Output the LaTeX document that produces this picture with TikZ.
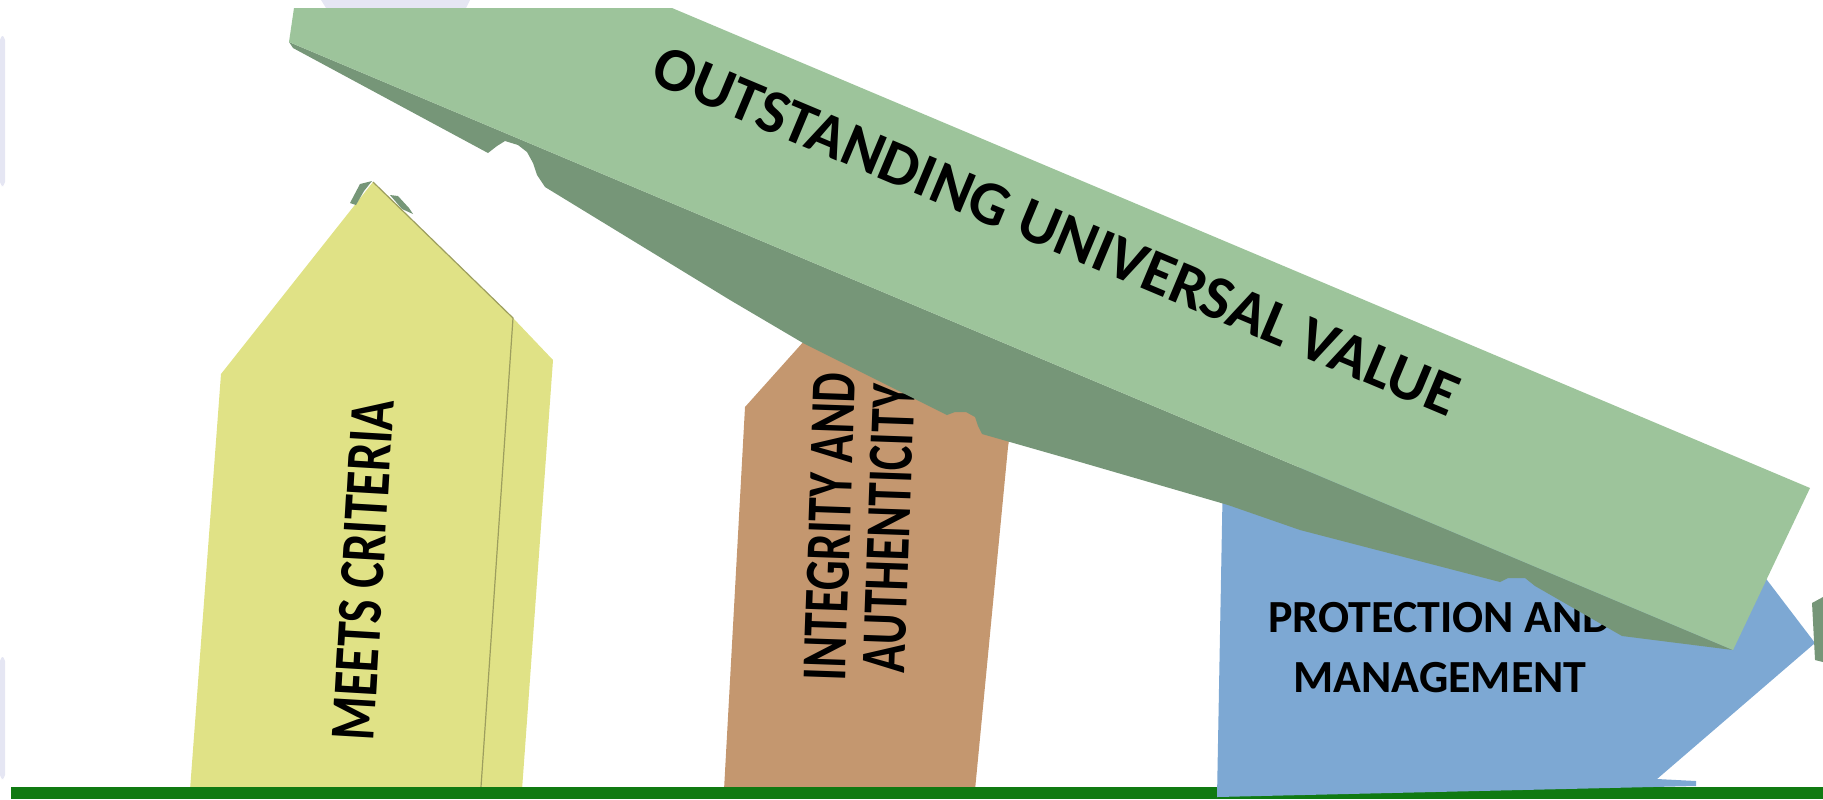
\documentclass[tikz,border=0pt]{standalone}
\usepackage{fontspec}
\setmainfont{Carlito}
\usepackage{tikz}
\usetikzlibrary{positioning}
\usepackage{xcolor}

\definecolor{beamtop}{RGB}{157,196,155}
\definecolor{beamside}{RGB}{118,150,120}
\definecolor{pillaryellow}{RGB}{224,226,134}
\definecolor{pillarbrown}{RGB}{196,151,111}
\definecolor{arrowblue}{RGB}{125,168,211}
\definecolor{groundgreen}{RGB}{16,122,18}
\definecolor{haze}{RGB}{229,230,243}

\begin{document}
\begin{tikzpicture}[x=0.5pt, y=-0.5pt,
    beamlabel/.style={font=\bfseries\fontsize{31pt}{36pt}\selectfont, inner sep=0pt},
    pillarlabel/.style={font=\bfseries\fontsize{32pt}{29pt}\selectfont, inner sep=0pt},
    arrowlabel/.style={font=\bfseries\fontsize{23pt}{30pt}\selectfont, align=center, inner sep=0pt}]
\useasboundingbox (0,0) rectangle (1823,799);

% faint haze at the edges
\fill[haze] (321,0) -- (470,0) -- (466,8) -- (326,8) -- cycle;
\fill[haze, rounded corners=2] (0,36) rectangle (5,186);
\fill[haze, rounded corners=2] (0,657) rectangle (5,779);

% yellow pillar
\fill[pillaryellow] (373,182) -- (221,374) -- (190,790) -- (481,790) -- (513,318) -- cycle;
\fill[pillaryellow] (513,318) -- (553,360) -- (522,790) -- (481,790) -- cycle;
\draw[pillaryellow!70!black, line width=0.6pt] (373,182) -- (513,318) -- (481,787);
\node[pillarlabel, rotate=86.6] (meets) at (363,570) {\scalebox{0.78}[1]{MEETS CRITERIA}};

% bits of the beam left on the tip
\fill[beamside] (350,203) -- (360,184) -- (372,181) -- (364,191) -- (356,205) -- cycle;
\fill[beamside] (390,195) -- (398,196) -- (409,208) -- (413,214) -- (402,209) -- cycle;

% brown pillar
\fill[pillarbrown] (724,790) -- (745,407) -- (805,340) -- (1012,420) -- (1008,447) -- (975,790) -- cycle;
\node[pillarlabel, rotate=88] (integrity) at (868,528)
  {\scalebox{0.74}[1]{\begin{tabular}{@{}c@{}}INTEGRITY AND\\AUTHENTICITY\end{tabular}}};

% ground line
\fill[groundgreen] (11,787) rectangle (1823,799);

% blue arrow
\fill[arrowblue] (1217,797) -- (1223,470) -- (1670,455) -- (1767,580) -- (1815,643)
  -- (1657,779) -- (1696,781) -- (1696,786) -- cycle;
\node[arrowlabel] (protection) at (1440,648) {PROTECTION AND\\MANAGEMENT};

% beam: underside
\fill[beamside] (289,42) -- (1733,650) -- (1622,636) -- (1535,586) -- (1525,578) -- (1508,578)
  -- (1500,582) -- (1300,530) -- (1228,505) -- (1080,462) -- (982,434) -- (978,426)
  -- (975,417) -- (966,412) -- (955,412) -- (947,415) -- (803,343) -- (730,300)
  -- (545,187) -- (537,175) -- (533,163) -- (527,152) -- (518,145) -- (505,141)
  -- (497,146) -- (488,153) -- (293,48) -- cycle;
% beam: top face
\fill[beamtop] (294,8) -- (672,8) -- (1810,488) -- (1733,650) -- (289,42) -- cycle;
\node[beamlabel, rotate=-22.8] (ouv) at (1056,231) {OUTSTANDING UNIVERSAL VALUE};

% end of the beam at the right edge
\fill[beamside] (1812,603) -- (1823,597) -- (1823,662) -- (1815,660) -- cycle;
\end{tikzpicture}
\end{document}
